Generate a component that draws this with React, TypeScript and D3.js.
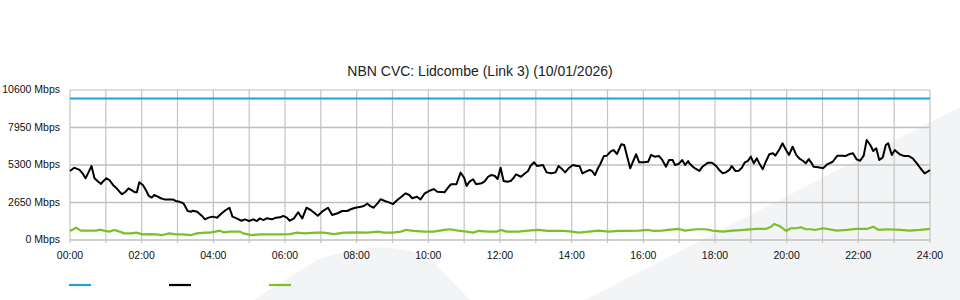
import React from "react";
import * as d3 from "d3";

const TITLE = "NBN CVC: Lidcombe (Link 3) (10/01/2026)";
const Y_TICKS = [0, 2650, 5300, 7950, 10600];
const X_TICK_HOURS = [0, 2, 4, 6, 8, 10, 12, 14, 16, 18, 20, 22, 24];
const GRID_HOURS = d3.range(0, 25);
const CAPACITY = 10000;

// [minute of day, Mbps]
const downMinutes = [0,7,16,21,26,31,36,41,46,52,56,61,66,72,77,82,87,93,98,103,109,112,116,122,127,132,137,141,147,152,158,166,172,177,183,190,197,203,206,213,221,226,232,239,246,254,261,267,272,279,287,293,300,307,313,318,324,329,338,345,352,357,363,368,375,382,389,396,403,410,415,422,432,439,448,456,464,471,478,487,492,498,502,508,515,520,527,534,541,548,555,562,568,573,581,587,594,601,609,615,627,633,638,647,654,660,664,669,675,680,689,694,700,705,711,716,721,726,732,738,742,747,755,760,767,771,777,782,792,798,806,813,818,824,829,836,842,849,853,858,864,870,874,879,884,888,894,899,905,910,916,923,928,933,938,943,948,953,961,968,973,979,986,991,998,1003,1009,1013,1019,1025,1030,1035,1037,1043,1048,1054,1059,1068,1075,1082,1087,1093,1098,1104,1108,1114,1120,1125,1130,1135,1140,1145,1150,1154,1160,1165,1171,1177,1181,1188,1193,1199,1204,1210,1216,1221,1227,1232,1237,1242,1245,1253,1261,1268,1277,1285,1292,1299,1306,1311,1317,1323,1329,1334,1340,1345,1350,1355,1361,1366,1370,1376,1381,1389,1396,1404,1411,1418,1424,1431,1436,1440];
const downMbps = [4880,5110,4950,4710,4360,4780,5230,4360,4170,3960,4170,4360,4240,3890,3700,3460,3230,3410,3650,3530,3370,3370,4080,3890,3530,3110,2990,3180,3060,2950,2870,2870,2870,2760,2710,2590,2050,2000,2070,2000,1700,1460,1580,1650,1580,1890,2120,2280,1650,1530,1360,1460,1340,1460,1340,1530,1410,1530,1460,1580,1600,1700,1580,1360,1530,1960,1530,2280,2120,1890,1720,2000,2280,1770,1890,2050,2050,2190,2280,2350,2400,2570,2420,2280,2590,2880,2760,2660,2540,2830,3060,3300,3180,2950,3060,2870,3300,3460,3600,3410,3370,3700,3940,3940,4760,4400,3820,4120,4290,3940,4010,4120,4470,4590,4540,4310,5110,4170,4120,4170,4360,4640,4470,4640,4880,5230,5490,5230,5300,4780,4710,4780,5230,5010,4780,5110,5300,5230,5230,4710,4830,4950,4880,4590,5070,5370,5940,5960,6240,6360,6080,6760,6710,5890,5070,5580,6060,5490,5490,5530,6010,5890,5940,5700,5180,5650,5650,5300,5370,5650,5300,5580,5420,5180,5020,4880,5180,5460,5460,5230,4950,4710,4780,4950,5230,4880,4900,5110,5490,5580,5890,5420,5770,5420,5000,5530,6060,6130,5960,6410,6830,6360,6010,6590,6010,5770,5600,5420,5720,5420,5180,5140,5070,5350,5530,5960,5960,5940,6080,6130,5700,5600,5960,7070,6710,6290,6480,5650,5840,6710,6830,6010,6360,6060,5940,5940,5770,5420,5070,4710,4830,4950];

const upMinutes = [0,10,18,32,44,49,57,66,74,83,91,102,111,122,133,144,155,166,177,189,203,212,226,234,243,251,257,268,285,290,304,318,335,352,368,380,393,412,425,442,459,481,498,515,526,540,554,562,576,593,609,627,636,650,664,675,683,700,714,722,731,750,767,784,800,827,841,852,869,885,902,919,935,952,969,977,991,1002,1019,1030,1048,1065,1076,1093,1110,1129,1149,1165,1174,1179,1188,1199,1207,1216,1224,1232,1242,1247,1261,1284,1301,1317,1334,1345,1354,1368,1390,1406,1423,1440];
const upMbps = [640,870,660,660,660,730,660,590,710,590,470,470,520,400,420,400,350,470,400,400,350,470,520,520,590,660,540,590,590,470,350,400,400,400,420,520,470,520,520,420,520,540,520,590,520,520,590,710,640,590,590,710,760,660,590,520,640,590,590,710,590,590,660,710,640,640,590,520,590,660,590,640,640,660,710,640,660,710,780,660,760,760,660,590,660,710,780,780,940,1130,990,640,830,830,900,760,760,710,830,660,710,780,780,940,710,760,710,660,710,780];

const COLORS = { capacity: "#1fa3e0", down: "#000000", up: "#7cbf26" };
const FONT = "'Liberation Sans', Arial, Helvetica, sans-serif";

export default function App() {
  const W = 960, H = 300;
  const x = d3.scaleLinear().domain([0, 24]).range([70, 930]);
  const y = d3.scaleLinear().domain([0, 10600]).range([240, 90]);
  const line = d3.line<[number, number]>().x(d => x(d[0] / 60)).y(d => y(d[1]));
  const down = downMinutes.map((m, i) => [m, downMbps[i]] as [number, number]);
  const up = upMinutes.map((m, i) => [m, upMbps[i]] as [number, number]);
  const cap: [number, number][] = [[0, CAPACITY], [1440, CAPACITY]];
  const fmt = (h: number) => (h < 10 ? "0" : "") + h + ":00";

  return (
    <div style={{ position: "fixed", left: 0, top: 0, width: W, height: H, background: "#fff" }}>
      <svg width={W} height={H} style={{ display: "block" }}>
        <path d="M253,300 L317,260 Q383,236 430,258 L470,300 Z" fill="#f3f4f6" />
        <path d="M585,300 L960,107 L960,300 Z" fill="#f3f4f6" />
        {GRID_HOURS.map(h => (
          <line key={"v" + h} x1={x(h)} x2={x(h)} y1={90} y2={243} stroke="#c4c4c4" strokeWidth={1.2} />
        ))}
        {Y_TICKS.map(v => (
          <line key={"h" + v} x1={70} x2={930} y1={y(v)} y2={y(v)} stroke="#c0c0c0" strokeWidth={v === 10600 ? 1 : 1.6} />
        ))}
        <path d={line(cap) || ""} fill="none" stroke={COLORS.capacity} strokeWidth={2} />
        <path d={line(up) || ""} fill="none" stroke={COLORS.up} strokeWidth={2.2} strokeLinejoin="round" />
        <path d={line(down) || ""} fill="none" stroke={COLORS.down} strokeWidth={2} strokeLinejoin="round" />
        {Y_TICKS.map(v => (
          <text key={"yl" + v} x={60} y={y(v)} dy="0.32em" textAnchor="end" fontFamily={FONT} fontSize={10.5} fill="#111">
            {v + " Mbps"}
          </text>
        ))}
        {X_TICK_HOURS.map(h => (
          <text key={"xl" + h} x={x(h)} y={256} dy="0.32em" textAnchor="middle" fontFamily={FONT} fontSize={10.5} fill="#111">
            {fmt(h)}
          </text>
        ))}
        <text x={480} y={71} dy="0.35em" textAnchor="middle" fontFamily={FONT} fontSize={14} fill="#222">
          {TITLE}
        </text>
        {[COLORS.capacity, COLORS.down, COLORS.up].map((c, i) => (
          <line key={"lg" + i} x1={69 + i * 100} x2={91 + i * 100} y1={285} y2={285} stroke={c} strokeWidth={2.2} />
        ))}
      </svg>
    </div>
  );
}
